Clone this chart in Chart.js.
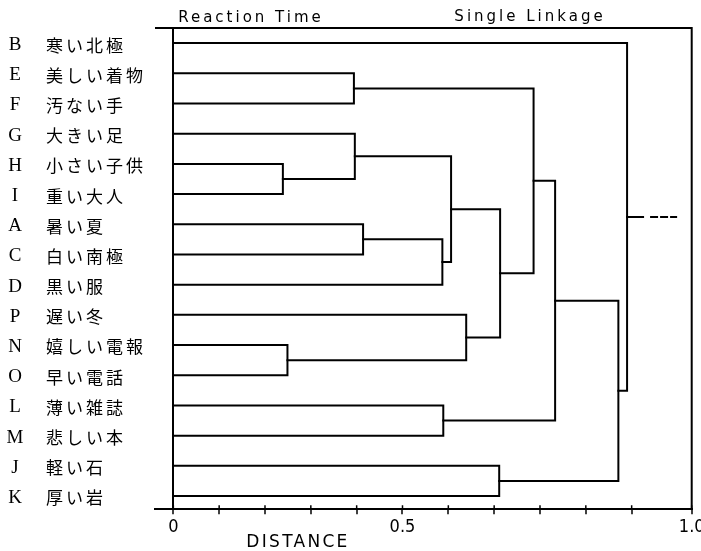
<!DOCTYPE html>
<html>
<head>
<meta charset="utf-8">
<script src="https://cdn.jsdelivr.net/npm/chart.js@4.4.1/dist/chart.umd.min.js"></script>
<style>
  html, body { margin: 0; padding: 0; background: #fff; }
  #chart { display: block; }
</style>
</head>
<body>
<canvas id="chart" width="701" height="551"></canvas>
<script>
// leaves, top to bottom
const leafCodes = ['B', 'E', 'F', 'G', 'H', 'I', 'A', 'C', 'D', 'P', 'N', 'O', 'L', 'M', 'J', 'K'];
const leafWords = ['寒い北極', '美しい着物', '汚ない手', '大きい足', '小さい子供', '重い大人', '暑い夏', '白い南極',
                   '黒い服', '遅い冬', '嬉しい電報', '早い電話', '薄い雑誌', '悲しい本', '軽い石', '厚い岩'];

// single linkage merges (left cluster + right cluster at distance)
const mergeLeft  = ['H', 'N', 'E', 'G', 'A', 'AC', 'L', 'GHI', 'P', 'J', 'GHIACD', 'EF', 'EFGHIACDPNO', 'EFGHIACDPNOLM', 'B'];
const mergeRight = ['I', 'O', 'F', 'HI', 'C', 'D', 'M', 'ACD', 'NO', 'K', 'PNO', 'GHIACDPNO', 'LM', 'JK', 'EFGHIACDPNOLMJK'];
const mergeDist  = [0.239, 0.249, 0.394, 0.396, 0.414, 0.587, 0.589, 0.606, 0.639, 0.711, 0.713, 0.786, 0.833, 0.971, 0.990];
const rootStubEnd = 1.097;

// distance axis
const distTicks = [0, 0.1, 0.2, 0.3, 0.4, 0.5, 0.6, 0.7, 0.8, 0.9, 1.0, 1.131];
const distTickLabels = ['0', '', '', '', '', '0.5', '', '', '', '', '', '1.0'];

var nodeY = {};
var nodeX = {};
leafCodes.forEach(function(code, i) {
    nodeY[code] = i;
    nodeX[code] = 0;
});

var datasets = [];
mergeDist.forEach(function(d, k) {
    var a = mergeLeft[k];
    var b = mergeRight[k];
    datasets.push({
        data: [
            {x: nodeX[a], y: nodeY[a]},
            {x: d, y: nodeY[a]},
            {x: d, y: nodeY[b]},
            {x: nodeX[b], y: nodeY[b]}
        ]
    });
    nodeY[a + b] = (nodeY[a] + nodeY[b]) / 2;
    nodeX[a + b] = d;
});

// dashed link going off to the right from the root
var root = mergeLeft[mergeLeft.length - 1] + mergeRight[mergeRight.length - 1];
datasets.push({
    data: [{x: nodeX[root], y: nodeY[root]}, {x: rootStubEnd, y: nodeY[root]}],
    borderDash: [16, 8, 6, 4, 6, 4, 6, 4]
});

datasets.forEach(function(ds) {
    ds.showLine = true;
    ds.borderColor = '#000';
    ds.borderWidth = 2;
    ds.pointRadius = 0;
    ds.borderCapStyle = 'square';
    ds.borderJoinStyle = 'miter';
    ds.tension = 0;
});

// frame, leaf labels and titles
const decorations = {
    id: 'decorations',
    afterDraw: function(chart) {
        var ctx = chart.ctx;
        var area = chart.chartArea;
        var xs = chart.scales.x;
        var ys = chart.scales.y;
        ctx.save();
        ctx.strokeStyle = '#000';
        ctx.lineWidth = 2;
        ctx.beginPath();
        ctx.moveTo(area.left, area.top);
        ctx.lineTo(area.right, area.top);
        ctx.lineTo(area.right, area.bottom);
        ctx.stroke();

        // small ticks crossing the axis line, upward part
        ctx.lineWidth = 1.5;
        ctx.beginPath();
        distTicks.forEach(function(v) {
            var px = xs.getPixelForValue(v);
            ctx.moveTo(px, area.bottom);
            ctx.lineTo(px, area.bottom - 4);
        });
        ctx.stroke();

        ctx.fillStyle = '#000';
        ctx.textBaseline = 'middle';
        leafCodes.forEach(function(code, i) {
            var y = ys.getPixelForValue(i) + 2;
            ctx.letterSpacing = '0px';
            ctx.font = '19px "Liberation Serif"';
            ctx.textAlign = 'center';
            ctx.fillText(code, 15, y);
            ctx.letterSpacing = '3px';
            ctx.font = '17px "Noto Sans CJK JP"';
            ctx.textAlign = 'left';
            ctx.fillText(leafWords[i], 46, y);
        });

        ctx.textAlign = 'center';
        ctx.textBaseline = 'alphabetic';
        ctx.letterSpacing = '3px';
        ctx.font = '15px "DejaVu Sans"';
        ctx.fillText('Reaction Time', 251, 22);
        ctx.fillText('Single Linkage', 530, 21);
        ctx.letterSpacing = '2.3px';
        ctx.font = '17px "DejaVu Sans"';
        ctx.fillText('DISTANCE', 298, 547);
        ctx.restore();
    }
};

var ctx = document.getElementById('chart').getContext('2d');
var chart = new Chart(ctx, {
    type: 'scatter',
    data: { datasets: datasets },
    plugins: [decorations],
    options: {
        responsive: false,
        animation: false,
        devicePixelRatio: 1,
        layout: {
            padding: { left: 155, right: 9.3, top: 28, bottom: 0 }
        },
        plugins: {
            legend: { display: false },
            tooltip: { enabled: false }
        },
        scales: {
            x: {
                type: 'linear',
                min: -0.040,
                max: 1.131,
                afterBuildTicks: function(scale) {
                    scale.ticks = distTicks.map(function(v) { return {value: v}; });
                },
                afterFit: function(scale) {
                    scale.height = 41.7;
                    scale.paddingLeft = 0;
                    scale.paddingRight = 0;
                },
                ticks: {
                    autoSkip: false,
                    maxRotation: 0,
                    padding: 2,
                    color: '#000',
                    font: { family: '"DejaVu Sans Condensed", "DejaVu Sans"', size: 18 },
                    callback: function(value, index) {
                        return distTickLabels[index];
                    }
                },
                grid: {
                    color: function(c) {
                        return c.tick && c.tick.value === 0 ? '#000' : 'rgba(0,0,0,0)';
                    },
                    lineWidth: 2,
                    tickColor: '#000',
                    tickWidth: 1.5,
                    tickLength: 5
                },
                border: { color: '#000', width: 2 }
            },
            y: {
                type: 'linear',
                display: false,
                reverse: true,
                min: -0.5,
                max: 15.44
            }
        }
    }
});
</script>
</body>
</html>
